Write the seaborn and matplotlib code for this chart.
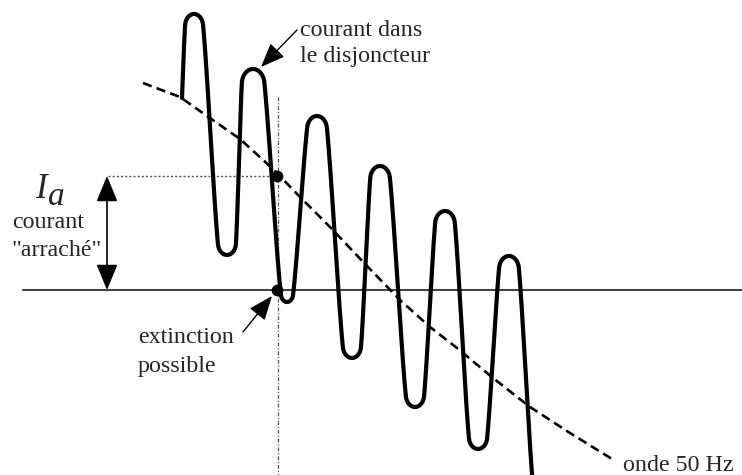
import numpy as np
import pandas as pd
import matplotlib
matplotlib.use("Agg")
import matplotlib.pyplot as plt
import seaborn as sns

# extrema of the breaker current (picture pixel coordinates, y downwards)
start_pt = (182, 98)
peaks_x = [194, 253, 317, 380, 445, 509]
peaks_y = [14, 69, 116, 166, 211, 256]
troughs_x = [227, 287, 352, 415, 478, 542]
troughs_y = [255, 302, 358, 407, 449, 496]
# roundness of each turn
peaks_r = [11, 14, 12, 12, 12, 12]
troughs_r = [11, 7, 11, 11, 11, 11]

# 50 Hz wave
wave_x = [143, 180, 207, 240, 273, 300, 330, 367, 400, 430, 457, 493, 530, 570, 612]
wave_y = [83, 97, 116, 139, 169, 197, 227, 266, 300, 327, 348, 378, 407, 433, 459]

# chopping point and zero crossing
chop_x = 277
chop_y = 176
zero_y = 290


def arc(c, r, a0, a1, n=30):
    d = (a1 - a0 + np.pi) % (2 * np.pi) - np.pi
    a = a0 + d * np.linspace(0, 1, n)
    return c[0] + r * np.cos(a), c[1] + r * np.sin(a)


def tangent_pt(c, r, m, side):
    if r == 0:
        return c
    v = m - c
    dist = np.hypot(v[0], v[1])
    al = np.arccos(r / dist)
    b = np.arctan2(v[1], v[0])
    cands = [c + r * np.array([np.cos(b + al), np.sin(b + al)]),
             c + r * np.array([np.cos(b - al), np.sin(b - al)])]
    return max(cands, key=lambda q: side * q[0])


def stroke(p0, p1, r0, r1, blend=0.7, quarter=False):
    # round turn at p0, flank, round turn at p1; softened with a sine flank
    sgn = 1 if p1[1] > p0[1] else -1
    c0 = np.array([p0[0], p0[1] + sgn * r0], float)
    c1 = np.array([p1[0], p1[1] - sgn * r1], float)
    m = c0 + (c1 - c0) * r0 / (r0 + r1)
    t0 = tangent_pt(c0, r0, m, 1)
    t1 = tangent_pt(c1, r1, m, -1)
    xs, ys = [], []
    if r0 > 0:
        ax_, ay_ = arc(c0, r0, -sgn * np.pi / 2, np.arctan2(t0[1] - c0[1], t0[0] - c0[0]))
        xs += list(ax_); ys += list(ay_)
    else:
        xs.append(p0[0]); ys.append(p0[1])
    bx, by = arc(c1, r1, np.arctan2(t1[1] - c1[1], t1[0] - c1[0]), sgn * np.pi / 2)
    xs += list(bx); ys += list(by)
    xs, ys = np.array(xs), np.array(ys)

    # same stroke as a plain sine half wave, then mix the two by height
    v = (1 - np.cos(np.pi * np.linspace(0, 1, 120))) / 2
    yv = p0[1] + (p1[1] - p0[1]) * v
    if quarter:
        xc = p0[0] + (p1[0] - p0[0]) * np.arcsin(v) * 2 / np.pi
    else:
        xc = p0[0] + (p1[0] - p0[0]) * np.arccos(1 - 2 * v) / np.pi
    order = np.argsort(ys)
    xa = np.interp(yv, ys[order], xs[order])
    xm = blend * xa + (1 - blend) * xc
    return list(xm), list(yv)


xs, ys = stroke(start_pt, (peaks_x[0], peaks_y[0]), 0, peaks_r[0], quarter=True)
for i in range(len(peaks_x)):
    x, y = stroke((peaks_x[i], peaks_y[i]), (troughs_x[i], troughs_y[i]),
                  peaks_r[i], troughs_r[i])
    xs += x[1:]; ys += y[1:]
    if i + 1 < len(peaks_x):
        x, y = stroke((troughs_x[i], troughs_y[i]), (peaks_x[i + 1], peaks_y[i + 1]),
                      troughs_r[i], peaks_r[i + 1])
        xs += x[1:]; ys += y[1:]

current = pd.DataFrame({"x": xs, "y": ys})
wave = pd.DataFrame({"x": wave_x, "y": wave_y})

sns.set_style("white")
plt.rcParams["font.family"] = ["Liberation Serif", "DejaVu Serif"]

fig = plt.figure(figsize=(7.42, 4.75), dpi=100)
ax = fig.add_axes([0, 0, 1, 1])

# zero axis
ax.plot([23, 742], [zero_y, zero_y], color="#444444", lw=1.5, zorder=1)

# guides
ax.plot([108, chop_x], [chop_y, chop_y], color="#555555", lw=1, ls=(0, (1.5, 1.5)), zorder=1)
ax.plot([chop_x + 1, chop_x + 1], [97, 475], color="#555555", lw=0.9,
        ls=(0, (3, 1.5, 1, 1.5)), zorder=1)

sns.lineplot(data=wave, x="x", y="y", sort=False, estimator=None, ax=ax,
             color="black", lw=1.9, linestyle=(0, (3.5, 2)), zorder=2)
sns.lineplot(data=current, x="x", y="y", sort=False, estimator=None, ax=ax,
             color="black", lw=3, zorder=3)
ax.set_xlim(0, 742)
ax.set_ylim(475, 0)
ax.axis("off")

ax.scatter([chop_x, chop_x], [chop_y, zero_y], s=55, color="black", zorder=4)

# double arrow for I_a
ax.annotate("", xy=(107, chop_y), xytext=(107, zero_y),
            arrowprops=dict(arrowstyle="<|-|>,head_length=0.8,head_width=0.33",
                            color="black", lw=1.2, mutation_scale=20,
                            shrinkA=0, shrinkB=0))

# pointer arrows
head = "-|>,head_length=0.75,head_width=0.3"
ax.annotate("", xy=(261, 67), xytext=(297, 30),
            arrowprops=dict(arrowstyle=head, color="black", lw=1,
                            mutation_scale=20, shrinkA=0, shrinkB=0))
ax.annotate("", xy=(272, 296), xytext=(243, 332),
            arrowprops=dict(arrowstyle=head, color="black", lw=1,
                            mutation_scale=20, shrinkA=0, shrinkB=0))

fs = 17.3
ax.text(300, 36, "courant dans", fontsize=fs, va="baseline")
ax.text(300, 62, "le disjoncteur", fontsize=fs, va="baseline")
ax.text(12, 228, "courant", fontsize=fs, va="baseline")
ax.text(12, 256, '"arraché"', fontsize=fs, va="baseline")
ax.text(138, 343, "extinction", fontsize=fs, va="baseline")
ax.text(138, 372, "possible", fontsize=fs, va="baseline")
ax.text(623, 471, "onde 50 Hz", fontsize=fs, va="baseline")
ax.text(35, 198, "I", fontsize=25, style="italic", va="baseline")
ax.text(48, 205, "a", fontsize=24, style="italic", va="baseline")

fig.savefig("out.png", dpi=100)
